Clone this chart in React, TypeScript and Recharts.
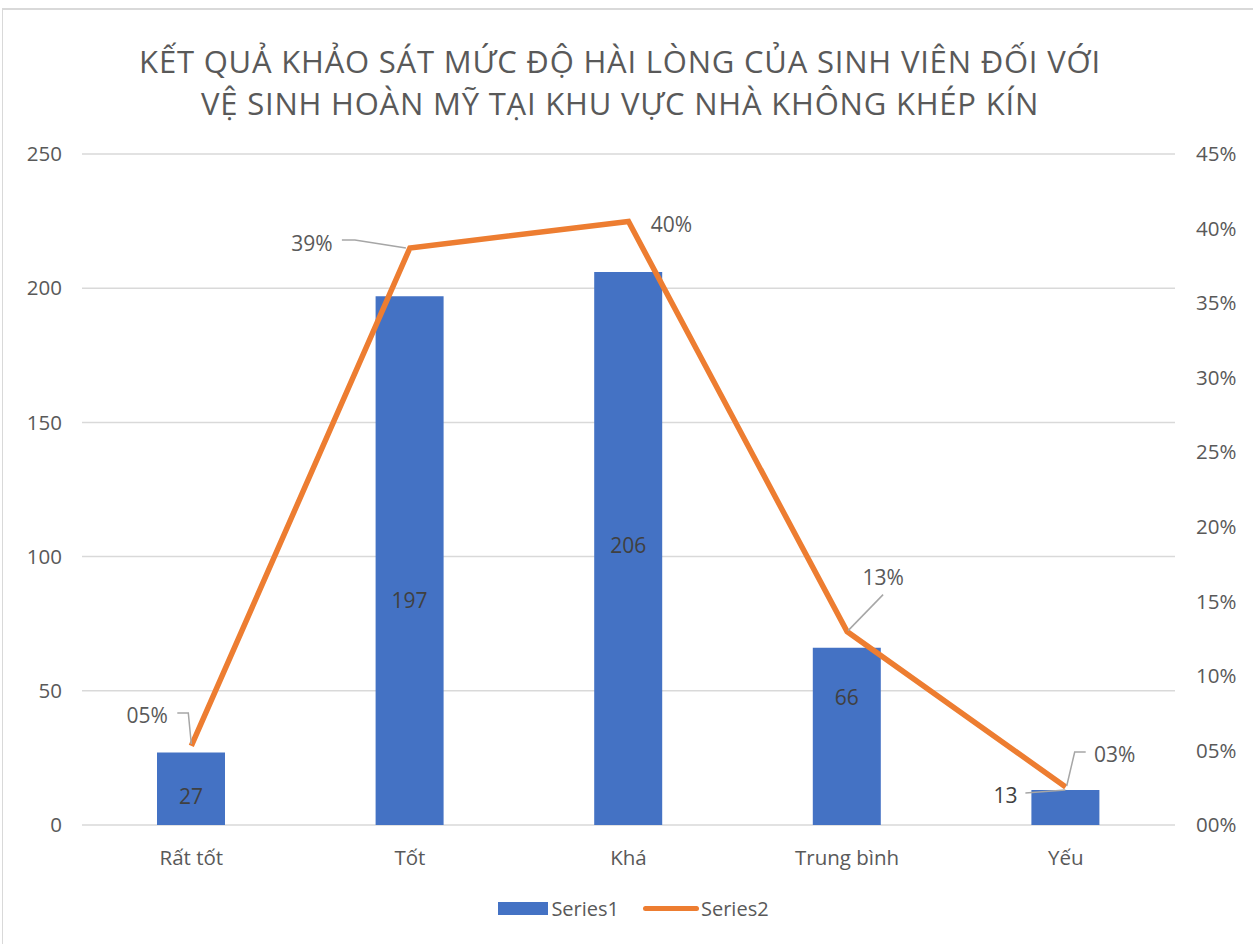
import React from 'react';
import { ComposedChart, Bar, Line, XAxis, YAxis, CartesianGrid, Legend } from 'recharts';

const categories = ['Rất tốt', 'Tốt', 'Khá', 'Trung bình', 'Yếu'];
const series1 = [27, 197, 206, 66, 13];
const series2 = [0.053, 0.387, 0.4047, 0.1297, 0.0255];
const leftTicks = [0, 50, 100, 150, 200, 250];
const rightTicks = [0, 0.05, 0.1, 0.15, 0.2, 0.25, 0.3, 0.35, 0.4, 0.45];

const data = categories.map((name, i) => ({ name, Series1: series1[i], Series2: series2[i] }));

const FONT = '"Open Sans", sans-serif';
const GRAY = '#595959';

const pct = (v: number) => String(Math.round(v * 100)).padStart(2, '0') + '%';

// label placement for the percentage labels (offset from point, leader polyline relative to point)
const pctLayout = [
  { dx: -44, dy: -31, leader: [[-14, -33], [-3, -33], [0, -2]] },
  { dx: -98, dy: -5, leader: [[-68, -8], [-55, -8], [-4, 0]] },
  { dx: 43, dy: 2, leader: [] as number[][] },
  { dx: 36, dy: -55, leader: [[36, -37], [1, -1]] },
  { dx: 49, dy: -33, leader: [[20, -35], [9, -35], [1, -1]] },
];

// bar label placement (offset from bar top centre)
const barLayout = [
  { dx: 0, dy: 43, leader: [] as number[][] },
  { dx: 0, dy: 304, leader: [] as number[][] },
  { dx: 0, dy: 273, leader: [] as number[][] },
  { dx: 0, dy: 49, leader: [] as number[][] },
  { dx: -60, dy: 5, leader: [[-40, 3], [0, 0]] },
];

const PctLabel = (props: any) => {
  const { x, y, index, value } = props;
  const l = pctLayout[index];
  return (
    <g>
      {l.leader.length > 0 && (
        <polyline
          points={l.leader.map(([a, b]) => `${x + a},${y + b}`).join(' ')}
          fill="none"
          stroke="#A6A6A6"
          strokeWidth={1.5}
        />
      )}
      <text x={x + l.dx} y={y + l.dy} textAnchor="middle" dominantBaseline="central" fill={GRAY} fontSize={21} fontFamily={FONT}>
        {pct(value)}
      </text>
    </g>
  );
};

const BarLabel = (props: any) => {
  const { x, y, width, index, value } = props;
  const cx = x + width / 2;
  const l = barLayout[index];
  return (
    <g>
      {l.leader.length > 0 && (
        <polyline
          points={l.leader.map(([a, b]) => `${cx + a},${y + b}`).join(' ')}
          fill="none"
          stroke="#A6A6A6"
          strokeWidth={1.5}
        />
      )}
      <text x={cx + l.dx} y={y + l.dy} textAnchor="middle" dominantBaseline="central" fill="#404040" fontSize={21} fontFamily={FONT}>
        {value}
      </text>
    </g>
  );
};

const LegendContent = () => (
  <div style={{ display: 'flex', justifyContent: 'center', alignItems: 'center', height: 40, paddingLeft: 14, fontFamily: FONT, fontSize: 20, color: GRAY }}>
    <span style={{ display: 'inline-block', width: 50, height: 13, background: '#4472C4', marginRight: 3 }} />
    <span>Series1</span>
    <span style={{ display: 'inline-block', width: 56, height: 5, borderRadius: 3, background: '#ED7D31', marginLeft: 24, marginRight: 2 }} />
    <span>Series2</span>
  </div>
);

export default function App() {
  return (
    <div style={{ position: 'absolute', left: 0, top: 0, width: 1253, height: 944, background: '#fff', overflow: 'hidden' }}>
      <div style={{ position: 'absolute', left: 2, top: 8, width: 1260, height: 950, borderLeft: '1.5px solid #D9D9D9', borderTop: '2px solid #D9D9D9' }} />
      <div
        style={{
          position: 'absolute',
          left: 0,
          top: 40,
          width: 1240,
          textAlign: 'center',
          fontFamily: FONT,
          fontSize: 31,
          letterSpacing: 0.8,
          lineHeight: '42px',
          color: GRAY,
        }}
      >
        KẾT QUẢ KHẢO SÁT MỨC ĐỘ HÀI LÒNG CỦA SINH VIÊN ĐỐI VỚI
        <br />
        VỆ SINH HOÀN MỸ TẠI KHU VỰC NHÀ KHÔNG KHÉP KÍN
      </div>
      <ComposedChart
        width={1253}
        height={944}
        data={data}
        margin={{ top: 154, right: 0, bottom: 16, left: 0 }}
        style={{ position: 'absolute', left: 0, top: 0 }}
      >
        <CartesianGrid yAxisId="left" vertical={false} stroke="#D9D9D9" strokeWidth={1.5} />
        <XAxis
          dataKey="name"
          axisLine={false}
          tickLine={false}
          height={63}
          tickMargin={19}
          tick={{ fill: GRAY, fontSize: 20.5, fontFamily: FONT }}
        />
        <YAxis
          yAxisId="left"
          domain={[0, 250]}
          ticks={leftTicks}
          width={82}
          axisLine={false}
          tickLine={false}
          tickMargin={14}
          tick={{ fill: GRAY, fontSize: 20.5, fontFamily: FONT }}
        />
        <YAxis
          yAxisId="right"
          orientation="right"
          domain={[0, 0.45]}
          ticks={rightTicks}
          tickFormatter={pct}
          width={78}
          axisLine={false}
          tickLine={false}
          tickMargin={15}
          tick={{ fill: GRAY, fontSize: 20.5, fontFamily: FONT }}
        />
        <Legend verticalAlign="bottom" height={40} content={<LegendContent />} />
        <Bar yAxisId="left" dataKey="Series1" fill="#4472C4" barSize={68} isAnimationActive={false} label={<BarLabel />} />
        <Line
          yAxisId="right"
          dataKey="Series2"
          stroke="#ED7D31"
          strokeWidth={5.5}
          dot={false}
          activeDot={false}
          isAnimationActive={false}
          label={<PctLabel />}
        />
      </ComposedChart>
    </div>
  );
}
